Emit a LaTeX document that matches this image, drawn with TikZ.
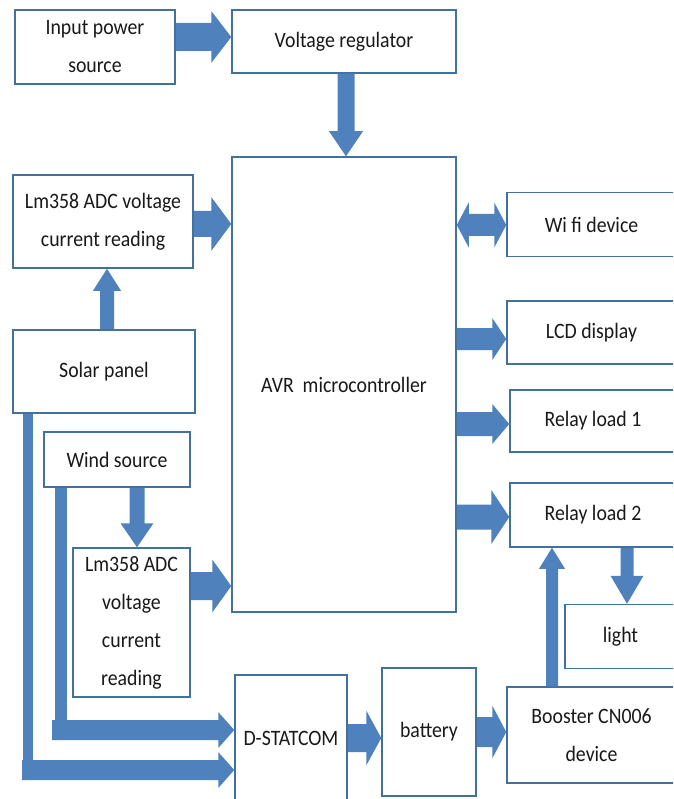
\documentclass[tikz,border=0pt]{standalone}
\usepackage{fontspec}
\setmainfont{Carlito}[FakeStretch=0.9]
\usetikzlibrary{calc}
\definecolor{boxline}{RGB}{65,113,156}
\definecolor{arrowblue}{RGB}{79,129,189}
% block arrow: #1 start, #2 end, #3 half shaft, #4 half head, #5 head length
\newcommand\barrow[5]{%
  \path let \p1=(#1), \p2=(#2),
            \n1={atan2(\y2-\y1,\x2-\x1)}, \n2={veclen(\x2-\x1,\y2-\y1)} in
        \pgfextra{\xdef\baang{\n1}\xdef\balen{\n2}} (\p1) coordinate (bas);
  \fill[arrowblue,shift={(bas)},rotate=\baang]
    (0,-#3) -- (\balen-#5,-#3) -- (\balen-#5,-#4) -- (\balen,0)
    -- (\balen-#5,#4) -- (\balen-#5,#3) -- (0,#3) -- cycle;
}
% double block arrow, same arguments
\newcommand\dbarrow[5]{%
  \path let \p1=(#1), \p2=(#2),
            \n1={atan2(\y2-\y1,\x2-\x1)}, \n2={veclen(\x2-\x1,\y2-\y1)} in
        \pgfextra{\xdef\baang{\n1}\xdef\balen{\n2}} (\p1) coordinate (bas);
  \fill[arrowblue,shift={(bas)},rotate=\baang]
    (0,0) -- (#5,-#4) -- (#5,-#3) -- (\balen-#5,-#3) -- (\balen-#5,-#4) -- (\balen,0)
    -- (\balen-#5,#4) -- (\balen-#5,#3) -- (#5,#3) -- (#5,#4) -- cycle;
}
\begin{document}
\begin{tikzpicture}[x=1pt,y=-1pt,
  box/.style={draw=boxline,line width=1.5pt,fill=white,inner sep=0pt,
    align=center,text=black!90,font=\fontsize{22}{38}\selectfont}]
\useasboundingbox (0,0) rectangle (673,799);
\clip (0,0) rectangle (673,799);
% boxes
\node[box,minimum width=160pt,minimum height=74pt] (inp) at (95,47) {Input power\\source};
\node[box,minimum width=224pt,minimum height=63pt] (vreg) at (344,41.5) {Voltage regulator};
\node[box,minimum width=224pt,minimum height=455pt] (avr) at (344,384.5) {AVR\ \ microcontroller};
\node[box,minimum width=180pt,minimum height=93pt] (lm1) at (103,221.5) {Lm358 ADC voltage\\current reading};
\node[box,minimum width=182pt,minimum height=83pt] (solar) at (104,371.5) {Solar panel};
\node[box,minimum width=146pt,minimum height=55pt] (wind) at (117,459.5) {Wind source};
\node[box,minimum width=117pt,minimum height=149pt] (lm2) at (131.5,622.5) {Lm358 ADC\\voltage\\current\\reading};
\node[box,minimum width=112pt,minimum height=126pt] (dst) at (291,738) {D-STATCOM};
\node[box,minimum width=94pt,minimum height=128pt] (batt) at (429,732) {battery};
\node[box,minimum width=169pt,minimum height=96pt] (boost) at (591.5,735) {Booster CN006\\device};
\node[box,minimum width=169pt,minimum height=64pt] (wifi) at (591.5,224.5) {Wi fi device};
\node[box,minimum width=169pt,minimum height=63pt] (lcd) at (591.5,332.5) {LCD display};
\node[box,minimum width=166pt,minimum height=62pt] (r1) at (593,421) {Relay load 1};
\node[box,minimum width=166pt,minimum height=64pt] (r2) at (593,515) {Relay load 2};
\node[box,minimum width=111pt,minimum height=64pt] (light) at (620.5,636.5) {light};
% bars of the elbow connectors
\coordinate (wturn) at (52,730);
\coordinate (sturn) at (22,770);
\fill[arrowblue] (wind.south -| 55,0) rectangle (67,740);
\fill[arrowblue] (solar.south -| 23,0) rectangle (33,780);
% block arrows
\barrow{inp.east |- 0,37}{vreg.west |- 0,37}{14}{26}{20}
\barrow{vreg.south -| 346,0}{avr.north -| 346,0}{8.5}{17}{25}
\barrow{lm1.east |- 0,224}{avr.west |- 0,224}{13}{27}{20}
\barrow{solar.north -| 107,0}{lm1.south -| 107,0}{7}{14}{22}
\dbarrow{avr.east |- 0,225}{wifi.west |- 0,225}{11}{22.5}{12}
\barrow{avr.east |- 0,339}{lcd.west |- 0,339}{11}{21}{14}
\barrow{avr.east |- 0,424}{r1.west |- 0,424}{12}{20}{17}
\barrow{avr.east |- 0,517}{r2.west |- 0,517}{12.5}{27}{18}
\barrow{r2.south -| 627,0}{light.north -| 627,0}{6.5}{16.5}{28}
\barrow{boost.north -| 552,0}{r2.south -| 552,0}{6}{13}{21}
\barrow{wind.south -| 137,0}{lm2.north -| 137,0}{7.5}{16.5}{24}
\barrow{lm2.east |- 0,586}{avr.west |- 0,586}{14}{26.5}{19}
\barrow{wturn}{dst.west |- wturn}{10}{18}{16}
\barrow{sturn}{dst.west |- sturn}{10}{18}{16}
\barrow{dst.east |- 0,738}{batt.west |- 0,738}{14}{27.5}{15}
\barrow{batt.east |- 0,732}{boost.west |- 0,732}{15}{26.5}{14}
\end{tikzpicture}
\end{document}
